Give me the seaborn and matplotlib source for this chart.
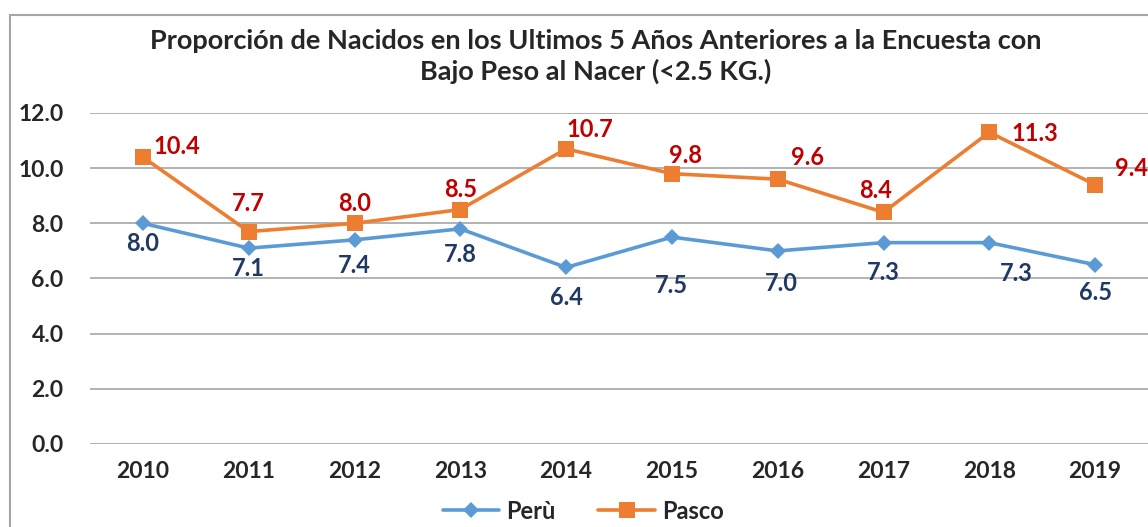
import matplotlib

matplotlib.use("Agg")
import matplotlib.pyplot as plt
import pandas as pd
import seaborn as sns
from matplotlib.patches import Rectangle

years = [2010, 2011, 2012, 2013, 2014, 2015, 2016, 2017, 2018, 2019]
peru = [8.0, 7.1, 7.4, 7.8, 6.4, 7.5, 7.0, 7.3, 7.3, 6.5]
pasco = [10.4, 7.7, 8.0, 8.5, 10.7, 9.8, 9.6, 8.4, 11.3, 9.4]
series_names = ["Perù", "Pasco"]
title = "Proporción de Nacidos en los Ultimos 5 Años Anteriores a la Encuesta con\nBajo Peso al Nacer (<2.5 KG.)"

# label placement (pixels from the point)
peru_offsets = [(0, -20), (0, -20), (0, -26), (0, -26), (0, -30), (0, -48), (4, -33), (0, -30), (27, -31), (0, -28)]
pasco_offsets = [(34, 11), (0, 28), (0, 20), (0, 20), (24, 19), (14, 18), (30, 22), (-8, 22), (46, -1), (36, 16)]

sns.set_theme(style="white")
plt.rcParams["font.family"] = ["Lato", "DejaVu Sans"]

df = pd.DataFrame(
    {
        "year": years * 2,
        "value": peru + pasco,
        "serie": [series_names[0]] * len(years) + [series_names[1]] * len(years),
    }
)

fig = plt.figure(figsize=(11.48, 5.27), dpi=100)
ax = fig.add_axes([0.0784, 0.1575, 0.9216, 0.6281])

colors = {"Perù": "#5B9BD5", "Pasco": "#ED7D31"}
markers = {"Perù": "D", "Pasco": "s"}
sizes = {"Perù": 8, "Pasco": 11}
for name in series_names:
    sub = df[df["serie"] == name]
    sns.lineplot(
        data=sub, x="year", y="value", ax=ax, color=colors[name],
        marker=markers[name], markersize=sizes[name], markeredgewidth=0,
        linewidth=2.6, label=name, legend=False,
    )

for x, y, off in zip(years, peru, peru_offsets):
    ax.annotate(f"{y:.1f}", (x, y), xytext=off, textcoords="offset pixels",
                ha="center", va="center", fontsize=17, fontweight="bold", color="#203864")
for x, y, off in zip(years, pasco, pasco_offsets):
    ax.annotate(f"{y:.1f}", (x, y), xytext=off, textcoords="offset pixels",
                ha="center", va="center", fontsize=17, fontweight="bold", color="#C00000",
                annotation_clip=False)

ax.set_xlim(2009.5, 2019.5)
ax.set_ylim(0, 12)
ax.set_yticks([0, 2, 4, 6, 8, 10, 12])
ax.set_yticklabels([f"{v:.1f}" for v in [0, 2, 4, 6, 8, 10, 12]])
ax.set_xticks(years)
ax.set_xticklabels([str(y) for y in years])
ax.yaxis.grid(True, color="#A6A6A6", linewidth=1.2)
ax.set_axisbelow(True)
for s in ax.spines.values():
    s.set_visible(False)
ax.tick_params(axis="both", length=0, labelsize=16.5)
ax.tick_params(axis="y", pad=19)
ax.tick_params(axis="x", pad=12)
for lbl in ax.get_xticklabels() + ax.get_yticklabels():
    lbl.set_fontweight("bold")
ax.set_xlabel("")
ax.set_ylabel("")

fig.text(0.519, 0.893, title, ha="center", va="center", fontsize=19.5,
         fontweight="bold", linespacing=1.3)

handles, labels = ax.get_legend_handles_labels()
leg = fig.legend(handles, labels, loc="center", bbox_to_anchor=(0.508, 0.03), ncol=2,
                 frameon=False, fontsize=17, handlelength=2.4, columnspacing=1.8,
                 handletextpad=0.3, borderpad=0.1)
for t in leg.get_texts():
    t.set_fontweight("bold")

fig.patches.append(Rectangle((10 / 1148, -0.1), 1.2, 1.1 - 15 / 527,
                             transform=fig.transFigure, fill=False,
                             edgecolor="#A6A6A6", linewidth=1.5))

fig.savefig("out.png", dpi=100)
